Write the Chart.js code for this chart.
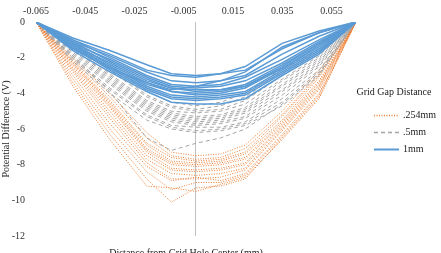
<!DOCTYPE html>
<html>
<head>
<meta charset="utf-8">
<script src="https://cdn.jsdelivr.net/npm/chart.js@4.4.0/dist/chart.umd.min.js"></script>
<style>
  html, body { margin: 0; padding: 0; background: #fff; }
  #wrap { width: 441px; height: 253px; }
</style>
</head>
<body>
<div id="wrap"><canvas id="gapChart" width="441" height="253"></canvas></div>
<script>
// tick labels along the top
var xTicks = [-0.065, -0.045, -0.025, -0.005, 0.015, 0.035, 0.055];
var yTicks = [0, -2, -4, -6, -8, -10, -12];

// measurement positions (mm from grid hole center)
var xPos = [-0.065, -0.05, -0.035, -0.02, -0.01, 0, 0.01, 0.02, 0.035, 0.05, 0.065];

// .254mm gap runs
var gap254 = [
    [0, -2.0, -4.0, -6.2, -7.3, -7.5, -7.4, -6.9, -5.0, -2.7, 0],
    [0, -2.1, -4.2, -6.5, -7.5, -7.7, -7.6, -7.1, -5.2, -2.9, 0],
    [0, -2.2, -4.4, -6.8, -7.6, -7.8, -7.7, -7.3, -5.3, -3.0, 0],
    [0, -2.3, -4.5, -6.9, -7.8, -7.9, -7.8, -7.4, -5.5, -3.1, 0],
    [0, -2.3, -4.6, -7.1, -7.9, -8.0, -7.9, -7.6, -5.6, -3.3, 0],
    [0, -2.4, -4.7, -7.2, -8.0, -8.1, -8.0, -7.7, -5.7, -3.4, 0],
    [0, -2.5, -4.8, -7.3, -8.2, -8.3, -8.2, -7.9, -5.8, -3.5, 0],
    [0, -2.6, -5.0, -7.5, -8.3, -8.4, -8.3, -8.0, -5.9, -3.6, 0],
    [0, -2.7, -5.2, -7.7, -8.5, -8.6, -8.5, -8.2, -6.0, -3.7, 0],
    [0, -2.8, -5.4, -7.9, -8.8, -8.8, -8.7, -8.3, -6.1, -3.8, 0],
    [0, -3.0, -5.7, -8.1, -8.9, -8.7, -8.9, -8.5, -6.3, -4.0, 0],
    [0, -3.2, -6.0, -8.4, -9.4, -9.0, -9.0, -8.6, -6.4, -4.1, 0],
    [0, -3.4, -6.3, -8.8, -10.1, -9.3, -9.2, -8.8, -6.5, -4.2, 0],
    [0, -3.6, -6.6, -9.2, -9.3, -9.5, -9.1, -8.7, -6.6, -4.3, 0]
];

// .5mm gap runs
var gap05 = [
    [0, -1.1, -2.4, -3.9, -4.5, -4.7, -4.5, -4.0, -2.6, -1.6, 0],
    [0, -1.2, -2.6, -4.1, -4.7, -4.9, -4.7, -4.2, -2.8, -1.7, 0],
    [0, -1.3, -2.7, -4.2, -4.8, -5.0, -4.9, -4.4, -3.0, -1.8, 0],
    [0, -1.4, -2.9, -4.4, -5.0, -5.1, -5.0, -4.6, -3.2, -1.9, 0],
    [0, -1.5, -3.0, -4.5, -5.1, -5.3, -5.2, -4.8, -3.3, -2.0, 0],
    [0, -1.5, -3.1, -4.6, -5.2, -5.4, -5.3, -4.9, -3.5, -2.1, 0],
    [0, -1.6, -3.2, -4.7, -5.3, -5.5, -5.4, -5.0, -3.6, -2.2, 0],
    [0, -1.7, -3.3, -4.8, -5.4, -5.6, -5.5, -5.1, -3.8, -2.3, 0],
    [0, -1.8, -3.4, -4.9, -5.5, -5.7, -5.6, -5.3, -3.9, -2.4, 0],
    [0, -1.9, -3.5, -5.0, -5.6, -5.8, -5.7, -5.4, -4.1, -2.5, 0],
    [0, -2.0, -3.7, -5.2, -5.8, -5.9, -5.9, -5.6, -4.3, -2.7, 0],
    [0, -2.1, -3.8, -5.3, -5.9, -6.1, -6.0, -5.7, -4.5, -2.8, 0],
    [0, -2.2, -4.0, -5.5, -6.0, -6.2, -6.1, -5.8, -4.7, -3.0, 0],
    [0, -1.9, -3.9, -6.5, -7.2, -6.8, -6.5, -6.0, -4.6, -2.9, 0]
];

// 1mm gap runs
var gap1 = [
    [0, -0.9, -1.6, -2.4, -2.9, -3.0, -2.9, -2.5, -1.2, -0.5, 0],
    [0, -1.0, -1.8, -2.7, -3.0, -3.1, -2.9, -2.7, -1.5, -0.6, 0],
    [0, -1.1, -1.9, -2.8, -3.3, -3.4, -3.3, -3.0, -1.8, -0.8, 0],
    [0, -1.0, -2.0, -3.0, -3.5, -3.6, -3.5, -3.1, -2.1, -1.0, 0],
    [0, -1.2, -2.1, -3.1, -3.6, -3.7, -3.6, -3.3, -2.3, -1.1, 0],
    [0, -1.1, -2.2, -3.2, -3.7, -3.8, -3.8, -3.5, -2.4, -1.2, 0],
    [0, -1.3, -2.3, -3.3, -3.7, -3.9, -3.8, -3.6, -2.5, -1.2, 0],
    [0, -1.2, -2.4, -3.4, -3.9, -4.0, -3.9, -3.6, -2.6, -1.3, 0],
    [0, -1.4, -2.5, -3.5, -3.9, -4.1, -4.0, -3.7, -2.6, -1.4, 0],
    [0, -1.3, -2.5, -3.6, -4.1, -4.2, -4.1, -3.9, -2.7, -1.5, 0],
    [0, -1.5, -2.6, -3.7, -4.2, -4.3, -4.2, -4.0, -2.8, -1.6, 0],
    [0, -1.4, -2.7, -3.8, -4.3, -4.4, -4.3, -4.1, -2.9, -1.7, 0],
    [0, -1.6, -2.8, -3.9, -4.5, -4.6, -4.6, -4.3, -3.0, -1.8, 0],
    [0, -1.5, -2.6, -3.4, -3.8, -3.6, -3.3, -2.8, -1.4, -0.6, 0]
];

var groupNames = ['.254mm', '.5mm', '1mm'];
var groupColors = ['#ED7D31', '#A5A5A5', '#5B9BD5'];
var groupDash = [[1, 1.5], [4, 3], []];
var groupWidth = [1, 1, 1.5];

var serif = '"Liberation Serif", "Times New Roman", serif';

function toPoints(ys) {
    return ys.map(function (y, i) { return { x: xPos[i], y: y }; });
}

var datasets = [];
[gap254, gap05, gap1].forEach(function (runs, g) {
    runs.forEach(function (ys, k) {
        datasets.push({
            label: k === 0 ? groupNames[g] : '',
            data: toPoints(ys),
            borderColor: groupColors[g],
            borderDash: groupDash[g],
            borderWidth: groupWidth[g],
            pointRadius: 0,
            fill: false,
            tension: 0,
            order: 3 - g
        });
    });
});

// zero line + legend + bottom axis title, drawn the way the excel chart looks
var extras = {
    id: 'extras',
    beforeDatasetsDraw: function (chart) {
        var ctx = chart.ctx, a = chart.chartArea;
        var x0 = Math.round(chart.scales.x.getPixelForValue(0)) - 0.5;
        ctx.save();
        ctx.strokeStyle = '#BFBFBF';
        ctx.lineWidth = 1;
        ctx.beginPath();
        ctx.moveTo(x0, a.top);
        ctx.lineTo(x0, a.bottom);
        ctx.stroke();
        ctx.restore();
    },
    afterDraw: function (chart) {
        var ctx = chart.ctx;
        ctx.save();
        ctx.font = '10px ' + serif;
        ctx.fillStyle = '#222';
        ctx.textBaseline = 'middle';
        ctx.textAlign = 'center';
        ctx.fillText('Grid Gap Distance', 394, 92);

        var rows = [115.5, 132.5, 149.5];
        for (var i = 0; i < 3; i++) {
            ctx.strokeStyle = groupColors[i];
            ctx.lineWidth = groupWidth[i] + 0.5;
            ctx.setLineDash(groupDash[i]);
            ctx.beginPath();
            ctx.moveTo(374, rows[i]);
            ctx.lineTo(399, rows[i]);
            ctx.stroke();
            ctx.setLineDash([]);
            ctx.textAlign = 'left';
            ctx.fillText(groupNames[i], 403, rows[i]);
        }

        ctx.textAlign = 'center';
        ctx.textBaseline = 'alphabetic';
        ctx.fillText('Distance from Grid Hole Center (mm)', 186, 256);
        ctx.restore();
    }
};

var ctx = document.getElementById('gapChart').getContext('2d');
var myChart = new Chart(ctx, {
    type: 'line',
    data: { datasets: datasets },
    options: {
        responsive: false,
        animation: false,
        layout: { padding: { left: 0, right: 85, top: 0, bottom: 15 } },
        plugins: {
            legend: { display: false },
            tooltip: { enabled: false }
        },
        scales: {
            x: {
                type: 'linear',
                position: 'top',
                min: -0.065,
                max: 0.065,
                afterBuildTicks: function (s) {
                    s.ticks = xTicks.map(function (v) { return { value: v }; });
                },
                afterFit: function (s) { s.height = 22; },
                grid: { display: false, drawTicks: false },
                border: { display: false },
                ticks: {
                    padding: 5,
                    maxRotation: 0,
                    autoSkip: false,
                    color: '#333',
                    font: { family: serif, size: 10 },
                    callback: function (v) { return String(v); }
                }
            },
            y: {
                min: -12,
                max: 0,
                afterBuildTicks: function (s) {
                    s.ticks = yTicks.map(function (v) { return { value: v }; });
                },
                afterFit: function (s) { s.width = 36; },
                grid: { display: false, drawTicks: false },
                border: { display: false },
                ticks: {
                    padding: 11,
                    color: '#333',
                    font: { family: serif, size: 10 }
                },
                title: {
                    display: true,
                    text: 'Potential Difference (V)',
                    color: '#222',
                    padding: 0,
                    font: { family: serif, size: 10 }
                }
            }
        }
    },
    plugins: [extras]
});
</script>
</body>
</html>
